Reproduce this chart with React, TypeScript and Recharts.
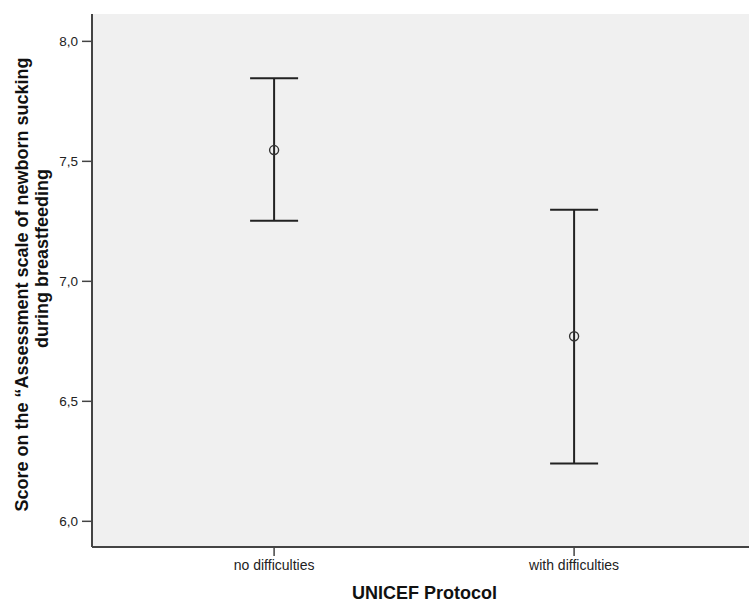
import React from 'react';
import { ComposedChart, Scatter, ErrorBar, XAxis, YAxis, CartesianGrid } from 'recharts';

const categories = ['no difficulties', 'with difficulties'];
const means = [7.547, 6.771];
const lower = [7.252, 6.241];
const upper = [7.846, 7.298];
const yTicks = [6.0, 6.5, 7.0, 7.5, 8.0];

const data = categories.map((c, i) => ({
  x: i,
  name: c,
  y: means[i],
  err: [means[i] - lower[i], upper[i] - means[i]],
}));

const font = '"Liberation Sans", Arial, sans-serif';

const MeanDot = (props: any) => {
  const { cx, cy } = props;
  return <circle cx={cx} cy={cy} r={4.5} fill="none" stroke="#333" strokeWidth={1.4} />;
};

// two-line rotated title, second line sits a bit higher like in SPSS output
const YTitle = (props: any) => {
  const vb = props.viewBox || { x: 0, y: 0, height: 0 };
  const mid = vb.y + vb.height / 2;
  const y1 = mid + 4;
  const y2 = mid - 22;
  return (
    <g fontFamily={font} fontWeight="bold" fontSize={18} fill="#111">
      <text x={28} y={y1} transform={`rotate(-90 28 ${y1})`} textAnchor="middle">
        Score on the “Assessment scale of newborn sucking
      </text>
      <text x={48} y={y2} transform={`rotate(-90 48 ${y2})`} textAnchor="middle">
        during breastfeeding
      </text>
    </g>
  );
};

const App: React.FC = () => {
  return (
    <div style={{ position: 'absolute', left: 0, top: 0, width: 749, height: 603, background: '#fff' }}>
      <ComposedChart width={749} height={603} data={data} margin={{ top: 14, right: 0, bottom: 0, left: 0 }}>
        <CartesianGrid fill="#f0f0f0" horizontal={false} vertical={false} />
        <XAxis
          xAxisId="top"
          orientation="top"
          type="number"
          dataKey="x"
          domain={[-0.607, 1.583]}
          height={0}
          tick={false}
          tickLine={false}
          axisLine={{ stroke: '#777', strokeWidth: 2 }}
        />
        <XAxis
          type="number"
          dataKey="x"
          domain={[-0.607, 1.583]}
          allowDataOverflow
          ticks={[0, 1]}
          tickFormatter={(v: number) => categories[v]}
          height={56}
          tickSize={9}
          tickMargin={4}
          tick={{ fontSize: 14, fill: '#222', fontFamily: font }}
          tickLine={{ stroke: '#444', strokeWidth: 1.5 }}
          axisLine={{ stroke: '#444', strokeWidth: 2 }}
          label={{
            value: 'UNICEF Protocol',
            position: 'insideBottom',
            offset: 4,
            dx: 4,
            style: { fontFamily: font, fontWeight: 'bold', fontSize: 18, fill: '#111' },
          }}
        />
        <YAxis
          type="number"
          dataKey="y"
          domain={[5.893, 8.114]}
          allowDataOverflow
          ticks={yTicks}
          tickFormatter={(v: number) => v.toFixed(1).replace('.', ',')}
          width={92}
          tickSize={10}
          tickMargin={4}
          tick={{ fontSize: 13.5, fill: '#222', fontFamily: font }}
          tickLine={{ stroke: '#444', strokeWidth: 1.5 }}
          axisLine={{ stroke: '#444', strokeWidth: 2 }}
          label={<YTitle />}
        />
        <Scatter dataKey="y" shape={<MeanDot />} isAnimationActive={false}>
          <ErrorBar dataKey="err" direction="y" width={24} stroke="#222" strokeWidth={2} isAnimationActive={false} />
        </Scatter>
      </ComposedChart>
    </div>
  );
};

export default App;
